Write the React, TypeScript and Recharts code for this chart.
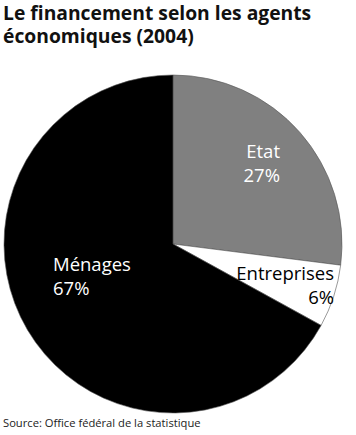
import { PieChart, Pie, Cell } from 'recharts';

const AGENTS = ['Etat', 'Entreprises', 'Ménages'];
const SHARES = [27, 6, 67];
const COLORS = ['#808080', '#ffffff', '#000000'];
const LABEL_COLORS = ['#ffffff', '#000000', '#ffffff'];
// label anchor relative to the pie centre
const LABEL_DX = [107, 161, -120];
const LABEL_DY = [-86, 36, 27];
const LABEL_ANCHOR = ['end', 'end', 'start'];

const TITLE_LINES = ['Le financement selon les agents', 'économiques (2004)'];

const data = AGENTS.map((name, i) => ({ name, value: SHARES[i] }));

function renderLabel(props: any) {
  const { cx, cy, index } = props;
  const x = cx + LABEL_DX[index];
  const y = cy + LABEL_DY[index];
  return (
    <text
      x={x}
      y={y}
      fill={LABEL_COLORS[index]}
      textAnchor={LABEL_ANCHOR[index]}
      fontSize={18.5}
      fontFamily="'Open Sans', sans-serif"
    >
      <tspan x={x} dy={0}>{AGENTS[index]}</tspan>
      <tspan x={x} dy={24}>{SHARES[index]}%</tspan>
    </text>
  );
}

export default function App() {
  return (
    <div style={{ position: 'absolute', left: 0, top: 0, width: 356, height: 435, background: '#fff', fontFamily: "'Open Sans', sans-serif" }}>
      {TITLE_LINES.map((line, i) => (
        <div
          key={line}
          style={{ position: 'absolute', left: 3, top: 1 + i * 23, fontSize: 19.3, fontWeight: 700, lineHeight: '23px', color: '#111', whiteSpace: 'nowrap' }}
        >
          {line}
        </div>
      ))}
      <PieChart width={356} height={435} margin={{ top: 0, right: 0, bottom: 0, left: 0 }}>
        <Pie
          data={data}
          dataKey="value"
          cx={173}
          cy={244}
          outerRadius={169}
          startAngle={90}
          endAngle={-270}
          stroke="#555"
          strokeWidth={0.6}
          label={renderLabel}
          labelLine={false}
          isAnimationActive={false}
        >
          {data.map((d, i) => (
            <Cell key={d.name} fill={COLORS[i]} />
          ))}
        </Pie>
      </PieChart>
      <div style={{ position: 'absolute', left: 3, top: 415, fontSize: 11.2, color: '#222' }}>
        Source: Office fédéral de la statistique
      </div>
    </div>
  );
}
